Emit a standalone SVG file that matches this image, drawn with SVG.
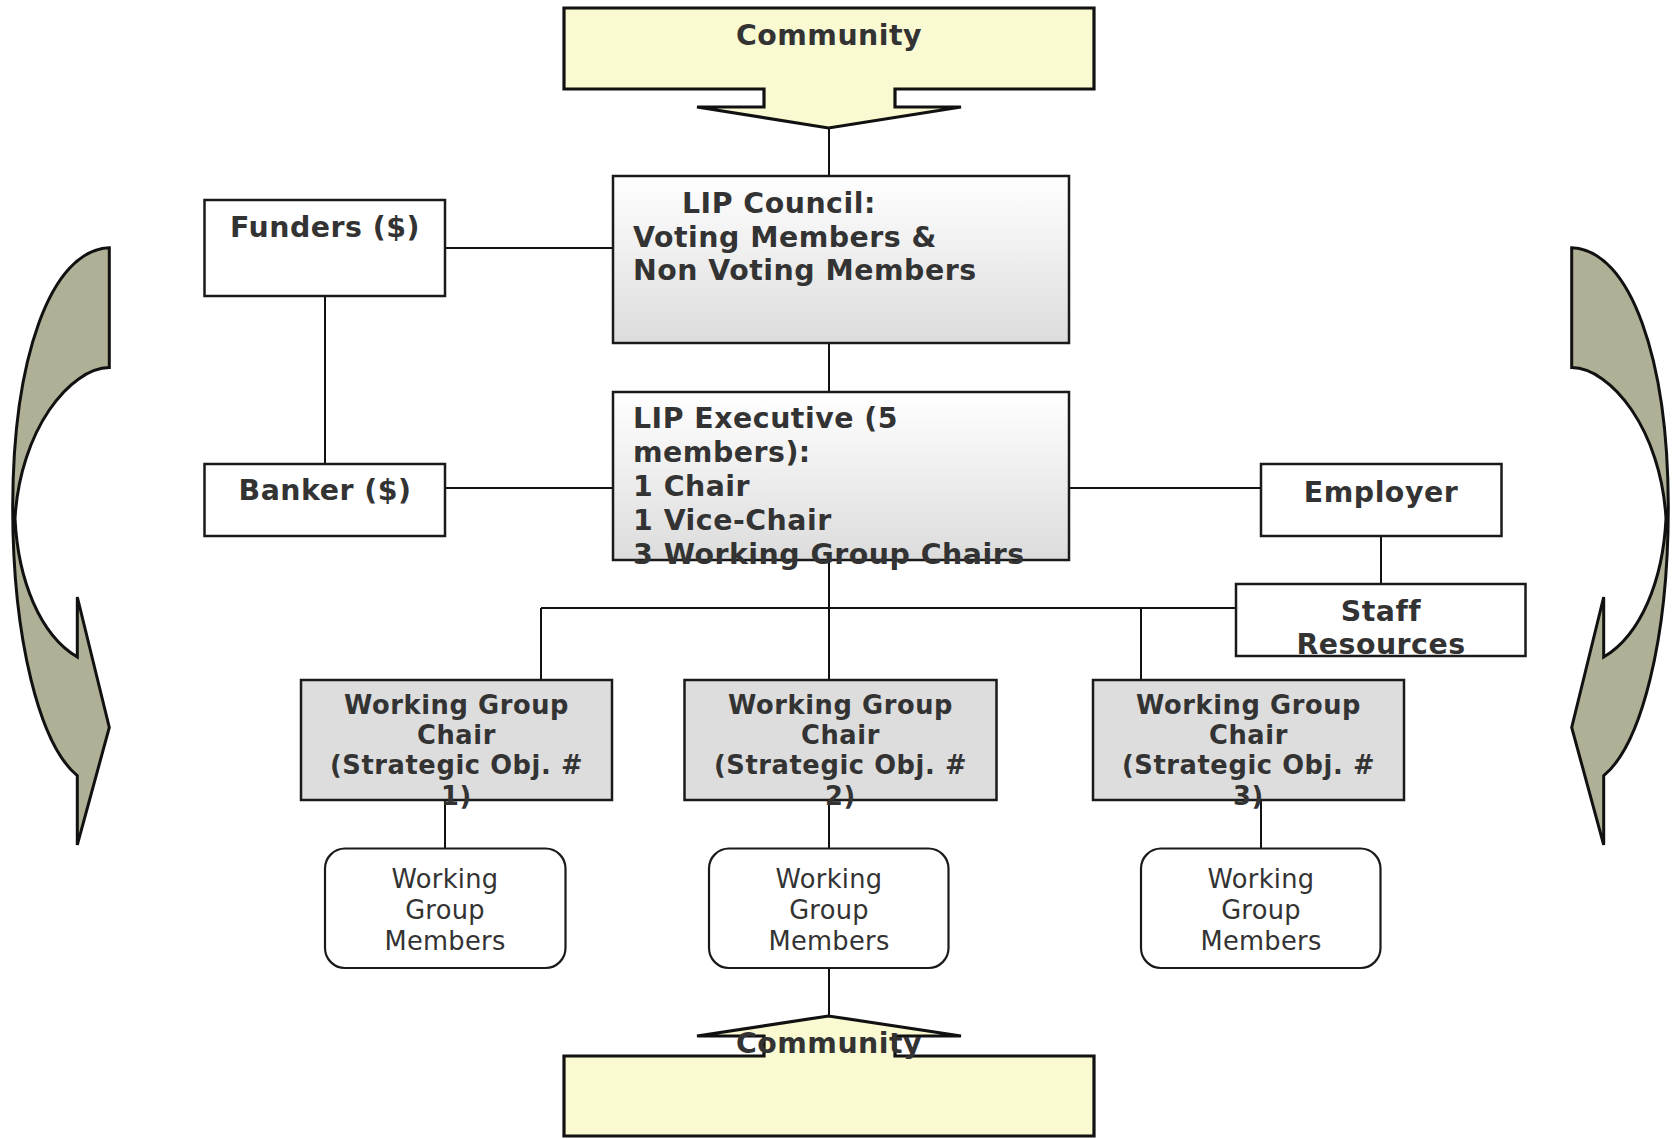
<svg xmlns="http://www.w3.org/2000/svg" width="1674" height="1139" viewBox="0 0 1674 1139">
<defs>
<linearGradient id="grad" x1="0" y1="0" x2="0" y2="1">
<stop offset="0" stop-color="#ffffff"/>
<stop offset="1" stop-color="#dcdcdc"/>
</linearGradient>
<path id="curl" d="M109.3,247.8 L109.3,367.6 C70,368 20,430 15,518.6 C18,580 40,635 77.3,657 L77.3,597 L109.3,727.4 L77.3,844.9 L77.3,775.7 C40,745 12.7,640 12.7,506.8 C13,360 50,250 109.3,247.8 Z"/>
</defs>
<style>
.box{fill:#ffffff;stroke:#1a1a1a;stroke-width:2.5}
.grad{fill:url(#grad);stroke:#1a1a1a;stroke-width:2.5}
.wg{fill:#dddddd;stroke:#1a1a1a;stroke-width:2.5}
.mem{fill:#ffffff;stroke:#1a1a1a;stroke-width:2.2}
.comm{fill:#f9fad2;stroke:#111111;stroke-width:3.2;stroke-linejoin:miter}
.curl{fill:#b0b096;stroke:#111111;stroke-width:3}
.b{font-family:"DejaVu Sans","Liberation Sans",sans-serif;font-weight:bold;font-size:28.4px;letter-spacing:0.5px;fill:#333333}
.bs{font-family:"DejaVu Sans","Liberation Sans",sans-serif;font-weight:bold;font-size:25.7px;letter-spacing:0.6px;fill:#333333}
.r{font-family:"DejaVu Sans","Liberation Sans",sans-serif;font-size:25.7px;letter-spacing:0.3px;fill:#333333}
.c{text-anchor:middle}
#connectors line{stroke:#111111;stroke-width:2}
</style>
<rect width="1674" height="1139" fill="#ffffff"/>

<g id="curl-left"><use href="#curl" class="curl"/></g>
<g id="curl-right"><use href="#curl" class="curl" transform="translate(1681,0) scale(-1,1)"/></g>

<g id="connectors">
<line x1="829" y1="128" x2="829" y2="176"/>
<line x1="829" y1="343" x2="829" y2="392"/>
<line x1="445" y1="248" x2="613" y2="248"/>
<line x1="325" y1="296" x2="325" y2="464"/>
<line x1="445" y1="488" x2="613" y2="488"/>
<line x1="1069" y1="488" x2="1261" y2="488"/>
<line x1="1381" y1="536" x2="1381" y2="584"/>
<line x1="829" y1="560" x2="829" y2="680"/>
<line x1="541" y1="608" x2="1236" y2="608"/>
<line x1="541" y1="608" x2="541" y2="680"/>
<line x1="1141" y1="608" x2="1141" y2="680"/>
<line x1="445" y1="800" x2="445" y2="848"/>
<line x1="829" y1="800" x2="829" y2="848"/>
<line x1="1261" y1="800" x2="1261" y2="848"/>
<line x1="829" y1="968" x2="829" y2="1016"/>
</g>

<g id="community-top">
<path class="comm" d="M564,8 L1094,8 L1094,89 L895,89 L895,107 L961,107 L828.5,128 L697,107 L764,107 L764,89 L564,89 Z"/>
<text class="b c" x="829" y="45">Community</text>
</g>

<g id="lip-council">
<rect class="grad" x="613" y="176" width="456" height="167"/>
<text class="b" x="682" y="213">LIP Council:</text>
<text class="b" x="633" y="247">Voting Members &amp;</text>
<text class="b" x="633" y="280">Non Voting Members</text>
</g>

<g id="funders">
<rect class="box" x="204.5" y="200" width="240.5" height="96"/>
<text class="b c" x="325" y="237">Funders ($)</text>
</g>

<g id="banker">
<rect class="box" x="204.5" y="464" width="240.5" height="72"/>
<text class="b c" x="325" y="500">Banker ($)</text>
</g>

<g id="lip-executive">
<rect class="grad" x="613" y="392" width="456" height="168"/>
<text class="b" x="633" y="428">LIP Executive (5</text>
<text class="b" x="633" y="462">members):</text>
<text class="b" x="633" y="496">1 Chair</text>
<text class="b" x="633" y="530">1 Vice-Chair</text>
<text class="b" x="633" y="564">3 Working Group Chairs</text>
</g>

<g id="employer">
<rect class="box" x="1261" y="464" width="240.5" height="72"/>
<text class="b c" x="1381" y="502">Employer</text>
</g>

<g id="staff-resources">
<rect class="box" x="1236" y="584" width="289.5" height="72"/>
<text class="b c" x="1381" y="621">Staff</text>
<text class="b c" x="1381" y="654">Resources</text>
</g>

<g id="wg-chair-1">
<rect class="wg" x="301" y="680" width="311" height="120"/>
<text class="bs c" x="456.5" y="714">Working Group</text>
<text class="bs c" x="456.5" y="744">Chair</text>
<text class="bs c" x="456.5" y="774">(Strategic Obj. #</text>
<text class="bs c" x="456.5" y="805">1)</text>
</g>

<g id="wg-chair-2">
<rect class="wg" x="684.5" y="680" width="312" height="120"/>
<text class="bs c" x="840.5" y="714">Working Group</text>
<text class="bs c" x="840.5" y="744">Chair</text>
<text class="bs c" x="840.5" y="774">(Strategic Obj. #</text>
<text class="bs c" x="840.5" y="805">2)</text>
</g>

<g id="wg-chair-3">
<rect class="wg" x="1093" y="680" width="311" height="120"/>
<text class="bs c" x="1248.5" y="714">Working Group</text>
<text class="bs c" x="1248.5" y="744">Chair</text>
<text class="bs c" x="1248.5" y="774">(Strategic Obj. #</text>
<text class="bs c" x="1248.5" y="805">3)</text>
</g>

<g id="wg-members-1">
<rect class="mem" x="325" y="848.5" width="240.5" height="119.5" rx="20" ry="20"/>
<text class="r c" x="445" y="888">Working</text>
<text class="r c" x="445" y="919">Group</text>
<text class="r c" x="445" y="950">Members</text>
</g>

<g id="wg-members-2">
<rect class="mem" x="709" y="848.5" width="239.5" height="119.5" rx="20" ry="20"/>
<text class="r c" x="829" y="888">Working</text>
<text class="r c" x="829" y="919">Group</text>
<text class="r c" x="829" y="950">Members</text>
</g>

<g id="wg-members-3">
<rect class="mem" x="1141" y="848.5" width="239.5" height="119.5" rx="20" ry="20"/>
<text class="r c" x="1261" y="888">Working</text>
<text class="r c" x="1261" y="919">Group</text>
<text class="r c" x="1261" y="950">Members</text>
</g>

<g id="community-bottom">
<path class="comm" d="M564,1056 L764,1056 L764,1036 L697,1036 L828.5,1016 L961,1036 L895,1036 L895,1056 L1094,1056 L1094,1136 L564,1136 Z"/>
<text class="b c" x="829" y="1053">Community</text>
</g>
</svg>
